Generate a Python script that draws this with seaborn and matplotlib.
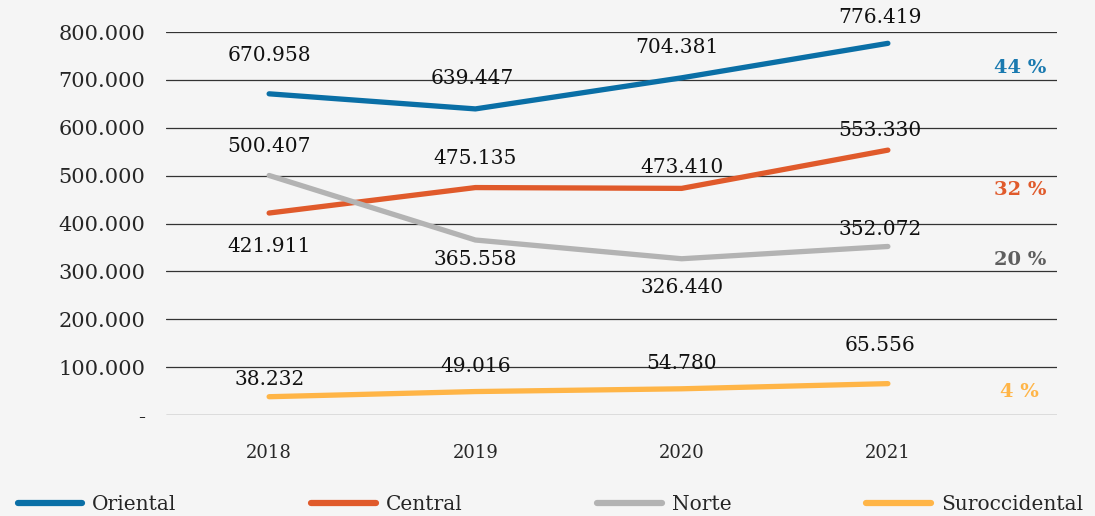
import matplotlib
matplotlib.use("Agg")
import matplotlib.pyplot as plt
import seaborn as sns
import pandas as pd

# data
years = ["2018", "2019", "2020", "2021"]
oriental = [670958, 639447, 704381, 776419]
central = [421911, 475135, 473410, 553330]
norte = [500407, 365558, 326440, 352072]
suroccidental = [38232, 49016, 54780, 65556]
regions = ["Oriental", "Central", "Norte", "Suroccidental"]
shares = ["44 %", "32 %", "20 %", "4 %"]
yticks = [0, 100000, 200000, 300000, 400000, 500000, 600000, 700000, 800000]

colors = {"Oriental": "#0a6fa6", "Central": "#e05a2b", "Norte": "#b3b3b3", "Suroccidental": "#ffb547"}
share_colors = ["#1a7ab0", "#e05a2b", "#5e5e5e", "#ffb547"]

# label offsets in pixels (dx, dy) relative to each point; dy positive = up
label_off = {
    "Oriental": [(0, 38), (-3, 30), (-5, 30), (-8, 26)],
    "Central": [(0, -33), (0, 29), (0, 21), (-8, 20)],
    "Norte": [(0, 29), (0, -19), (0, -29), (-8, 17)],
    "Suroccidental": [(0, 17), (0, 25), (0, 25), (-8, 38)],
}
share_y = [724000, 470000, 324000, 48000]

series = {"Oriental": oriental, "Central": central, "Norte": norte, "Suroccidental": suroccidental}
df = pd.DataFrame([(r, i, v) for r in regions for i, v in enumerate(series[r])],
                  columns=["region", "x", "value"])

sns.set_style("white")
plt.rcParams["font.family"] = ["DejaVu Serif"]

fig = plt.figure(figsize=(10.95, 5.16), dpi=100)
fig.patch.set_facecolor("#f5f5f5")
ax = fig.add_axes([0.1516, 0.1957, 0.8137, 0.7422])
ax.set_facecolor("none")

sns.lineplot(data=df, x="x", y="value", hue="region", hue_order=regions, palette=colors,
             linewidth=3.8, ax=ax, legend=False, solid_capstyle="round")

for r in regions:
    for i, v in enumerate(series[r]):
        dx, dy = label_off[r][i]
        ax.annotate(f"{v:,}".replace(",", "."), xy=(i, v), xytext=(dx * 0.72, dy * 0.72),
                    textcoords="offset points", ha="center", va="center",
                    fontsize=14.5, color="#111111")

for s, y, c in zip(shares, share_y, share_colors):
    ax.text(3.64, y, s, ha="center", va="center", fontsize=14, fontweight="bold", color=c)

ax.set_xlim(-0.5, 3.82)
ax.set_ylim(0, 800000)
ax.set_yticks(yticks)
ax.set_yticklabels(["-"] + [f"{t:,}".replace(",", ".") for t in yticks[1:]], fontsize=15)
ax.set_xticks(range(len(years)))
ax.set_xticklabels(years, fontsize=13)
ax.tick_params(axis="y", length=0, pad=15)
ax.tick_params(axis="x", length=0, pad=21)
ax.grid(axis="y", color="#333333", linewidth=0.9)
ax.set_axisbelow(True)
for sp in ax.spines.values():
    sp.set_visible(False)
ax.set_xlabel("")
ax.set_ylabel("")

handles = [plt.Line2D([], [], color=colors[r], linewidth=4.5, solid_capstyle="round") for r in regions]
fig.legend(handles, regions, loc="lower left", bbox_to_anchor=(0.005, -0.02, 0.995, 0.1),
           ncol=4, mode="expand", frameon=False, fontsize=14.5, handlelength=3.2,
           handletextpad=0.5, borderaxespad=0.2)

fig.savefig("out.png", dpi=100, facecolor=fig.get_facecolor())
